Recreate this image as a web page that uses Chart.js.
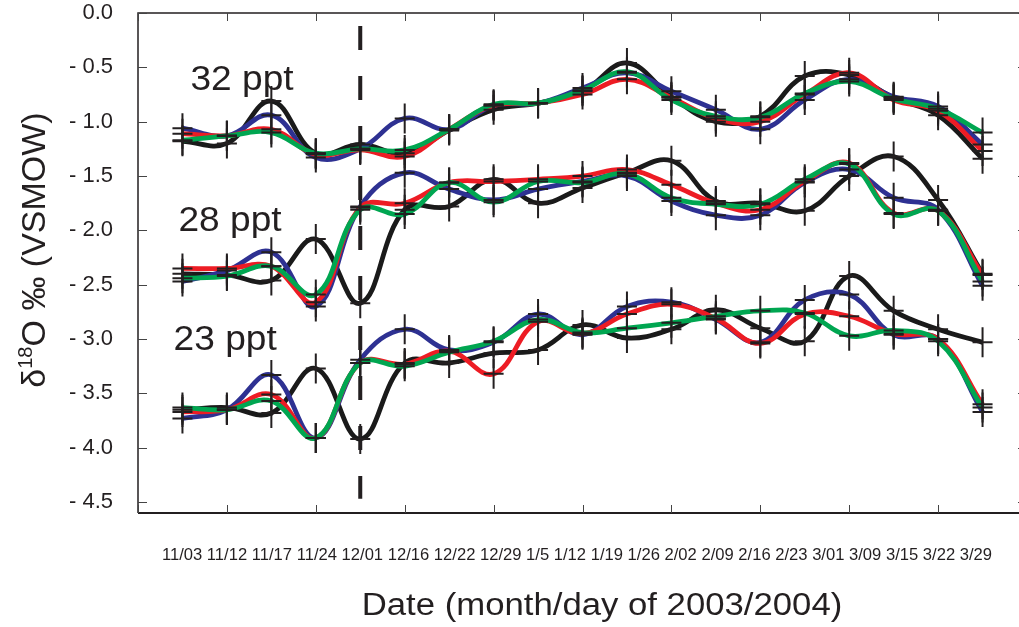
<!DOCTYPE html>
<html>
<head>
<meta charset="utf-8">
<script src="https://cdn.jsdelivr.net/npm/chart.js@4/dist/chart.umd.min.js"></script>
<style>
  html, body { margin: 0; padding: 0; background: #fff; }
</style>
</head>
<body>
<canvas id="chart" width="1019" height="627"></canvas>
<script>
// Date labels printed under the axis (as in the original figure)
const dateLabels = ['11/03', '11/12', '11/17', '11/24', '12/01', '12/16', '12/22', '12/29', '1/5', '1/12',
  '1/19', '1/26', '2/02', '2/09', '2/16', '2/23', '3/01', '3/09', '3/15', '3/22', '3/29'];
const yTicks = [0, -0.5, -1.0, -1.5, -2.0, -2.5, -3.0, -3.5, -4.0, -4.5];
const xTicks = [-1, 1, 3, 5, 7, 9, 11, 13, 15, 17, 19];
const dividerIndex = 4; // dashed line at 12/01

// delta18O per sampling, one array per salinity / treatment
const black32 = [-1.18, -1.20, -0.81, -1.29, -1.21, -1.29, -1.08, -0.89, -0.83, -0.72, -0.46, -0.77, -1.00, -0.95, -0.58, -0.57, -0.78, -0.94, -1.34];
const blue32  = [-1.06, -1.13, -0.94, -1.33, -1.25, -0.97, -1.07, -0.85, -0.83, -0.69, -0.55, -0.72, -0.89, -1.07, -0.80, -0.61, -0.77, -0.86, -1.21];
const red32   = [-1.11, -1.13, -1.07, -1.30, -1.26, -1.32, -1.07, -0.85, -0.83, -0.75, -0.61, -0.78, -0.97, -1.00, -0.75, -0.55, -0.80, -0.90, -1.27];
const green32 = [-1.17, -1.13, -1.10, -1.29, -1.25, -1.26, -1.07, -0.84, -0.83, -0.71, -0.54, -0.80, -0.95, -0.96, -0.74, -0.63, -0.79, -0.88, -1.10];

const black28 = [-2.40, -2.41, -2.46, -2.08, -2.67, -1.81, -1.78, -1.53, -1.75, -1.61, -1.47, -1.36, -1.73, -1.75, -1.82, -1.50, -1.32, -1.72, -2.40];
const blue28  = [-2.47, -2.37, -2.20, -2.70, -1.78, -1.47, -1.62, -1.72, -1.62, -1.55, -1.50, -1.73, -1.86, -1.86, -1.56, -1.44, -1.70, -1.81, -2.51];
const red28   = [-2.35, -2.35, -2.33, -2.66, -1.79, -1.75, -1.56, -1.55, -1.53, -1.50, -1.44, -1.58, -1.75, -1.81, -1.55, -1.38, -1.84, -1.82, -2.41];
const green28 = [-2.44, -2.42, -2.33, -2.59, -1.81, -1.85, -1.56, -1.74, -1.55, -1.56, -1.48, -1.70, -1.76, -1.76, -1.53, -1.39, -1.85, -1.82, -2.47];

const black23 = [-3.65, -3.63, -3.68, -3.27, -3.92, -3.22, -3.22, -3.13, -3.10, -2.87, -2.99, -2.91, -2.73, -2.90, -3.02, -2.42, -2.74, -2.91, -3.03];
const blue23  = [-3.73, -3.65, -3.33, -3.91, -3.19, -2.91, -3.10, -3.03, -2.77, -2.96, -2.70, -2.66, -2.82, -3.03, -2.64, -2.59, -2.96, -3.00, -3.67];
const red23   = [-3.67, -3.65, -3.51, -3.91, -3.22, -3.23, -3.11, -3.32, -2.84, -2.95, -2.77, -2.68, -2.81, -3.04, -2.77, -2.79, -2.95, -3.00, -3.60];
const green23 = [-3.63, -3.65, -3.57, -3.91, -3.22, -3.25, -3.12, -3.02, -2.82, -2.94, -2.90, -2.85, -2.79, -2.74, -2.76, -2.97, -2.92, -3.02, -3.63];

// salinity labels, placed in data units (left edge, baseline)
const groupNames = ['32 ppt', '28 ppt', '23 ppt'];
const groupLabelX = [0.18, -0.09, -0.2];
const groupLabelY = [-0.705, -2.01, -3.10];

const FONT = '"Liberation Sans", Arial, Helvetica, sans-serif';
const INK = '#231f20';
const colors = { green: '#00a651', red: '#ed1c24', blue: '#2e3192', black: '#1a1a1a' };

const toPoints = (arr) => arr.map((v, i) => ({ x: i, y: v }));
const line = (arr, color) => ({
  data: toPoints(arr),
  borderColor: color,
  borderWidth: 4.8,
  pointRadius: 0,
  tension: 0.4,
  fill: false,
});

// first dataset ends up on top
const datasets = [
  line(green32, colors.green), line(green28, colors.green), line(green23, colors.green),
  line(red32, colors.red), line(red28, colors.red), line(red23, colors.red),
  line(blue32, colors.blue), line(blue28, colors.blue), line(blue23, colors.blue),
  line(black32, colors.black), line(black28, colors.black), line(black23, colors.black),
];

const framePlugin = {
  id: 'frame',
  beforeDatasetsDraw(chart) {
    const { ctx, scales: { x, y } } = chart;
    ctx.save();
    // dashed divider
    ctx.strokeStyle = INK;
    ctx.lineWidth = 4;
    ctx.setLineDash([24, 26]);
    const dx = x.getPixelForValue(dividerIndex);
    ctx.beginPath();
    ctx.moveTo(dx, y.getPixelForValue(-0.12));
    ctx.lineTo(dx, y.getPixelForValue(-4.47));
    ctx.stroke();
    ctx.restore();
  },
  afterDatasetsDraw(chart) {
    const { ctx, chartArea: a, scales: { x, y } } = chart;
    ctx.save();
    // crosses on every sample
    ctx.strokeStyle = INK;
    ctx.lineWidth = 2;
    chart.data.datasets.forEach((ds, i) => {
      chart.getDatasetMeta(i).data.forEach((pt) => {
        ctx.beginPath();
        ctx.moveTo(pt.x, pt.y - 15);
        ctx.lineTo(pt.x, pt.y + 15);
        ctx.moveTo(pt.x - 10, pt.y);
        ctx.lineTo(pt.x + 10, pt.y);
        ctx.stroke();
      });
    });

    // axes frame (right edge falls just outside the canvas)
    const rightEdge = x.getPixelForValue(19);
    ctx.strokeStyle = INK;
    ctx.lineWidth = 1.5;
    ctx.beginPath();
    ctx.moveTo(a.left, a.bottom);
    ctx.lineTo(a.left, a.top);
    ctx.lineTo(rightEdge, a.top);
    ctx.stroke();
    ctx.lineWidth = 2;
    ctx.beginPath();
    ctx.moveTo(a.left, a.bottom);
    ctx.lineTo(rightEdge, a.bottom);
    ctx.stroke();

    // inward tick marks
    ctx.lineWidth = 1;
    ctx.strokeStyle = '#444';
    ctx.beginPath();
    yTicks.forEach((v) => {
      const py = Math.round(y.getPixelForValue(v)) + 0.5;
      ctx.moveTo(a.left, py); ctx.lineTo(a.left + 9, py);
      ctx.moveTo(rightEdge, py); ctx.lineTo(rightEdge - 9, py);
    });
    xTicks.forEach((v) => {
      const px = Math.round(x.getPixelForValue(v)) + 0.5;
      ctx.moveTo(px, a.top); ctx.lineTo(px, a.top + 8);
      ctx.moveTo(px, a.bottom); ctx.lineTo(px, a.bottom - 8);
    });
    ctx.stroke();

    // salinity labels
    ctx.fillStyle = INK;
    ctx.font = '35px ' + FONT;
    ctx.textBaseline = 'alphabetic';
    ctx.textAlign = 'left';
    groupNames.forEach((name, i) => {
      ctx.save();
      ctx.translate(x.getPixelForValue(groupLabelX[i]), y.getPixelForValue(groupLabelY[i]));
      ctx.scale(1.06, 1);
      ctx.fillText(name, 0, 0);
      ctx.restore();
    });

    // date label row
    ctx.font = '16.6px ' + FONT;
    ctx.textAlign = 'center';
    ctx.textBaseline = 'middle';
    ctx.fillText(dateLabels.join(' '), 577, 555);

    // x title
    ctx.save();
    ctx.font = '31px ' + FONT;
    ctx.textBaseline = 'alphabetic';
    ctx.translate(602, 615);
    ctx.scale(1.12, 1);
    ctx.fillText('Date (month/day of 2003/2004)', 0, 0);
    ctx.restore();

    // y title with superscript 18
    ctx.save();
    ctx.textAlign = 'left';
    ctx.textBaseline = 'alphabetic';
    const big = '34px ' + FONT, small = '20px ' + FONT;
    ctx.font = big;
    const w1 = ctx.measureText('\u03b4').width;
    const w3 = ctx.measureText('O \u2030 (VSMOW)').width;
    ctx.font = small;
    const w2 = ctx.measureText('18').width;
    const total = w1 + w2 + w3;
    ctx.translate(45, 250 + total / 2);
    ctx.rotate(-Math.PI / 2);
    ctx.font = big;
    ctx.fillText('\u03b4', 0, 0);
    ctx.font = small;
    ctx.fillText('18', w1, -13);
    ctx.font = big;
    ctx.fillText('O \u2030 (VSMOW)', w1 + w2, 0);
    ctx.restore();

    ctx.restore();
  },
};

new Chart(document.getElementById('chart'), {
  type: 'line',
  data: { datasets },
  options: {
    responsive: false,
    animation: false,
    devicePixelRatio: 1,
    layout: { padding: { top: 13, bottom: 114, left: 0, right: 0 } },
    plugins: {
      legend: { display: false },
      tooltip: { enabled: false },
    },
    scales: {
      x: {
        type: 'linear',
        min: -1,
        max: 18.82, // right frame edge sits just past the canvas
        display: false,
      },
      y: {
        min: -4.6,
        max: 0,
        afterBuildTicks: (scale) => { scale.ticks = yTicks.map((v) => ({ value: v })); },
        afterFit: (scale) => {
          scale.width = 138;
          scale.paddingTop = 0;
          scale.paddingBottom = 0;
        },
        grid: { display: false, drawTicks: false },
        border: { display: false },
        ticks: {
          padding: 25,
          color: INK,
          font: { family: FONT, size: 22 },
          callback: (v) => (v === 0 ? '0.0' : '- ' + Math.abs(v).toFixed(1)),
        },
      },
    },
  },
  plugins: [framePlugin],
});
</script>
</body>
</html>
